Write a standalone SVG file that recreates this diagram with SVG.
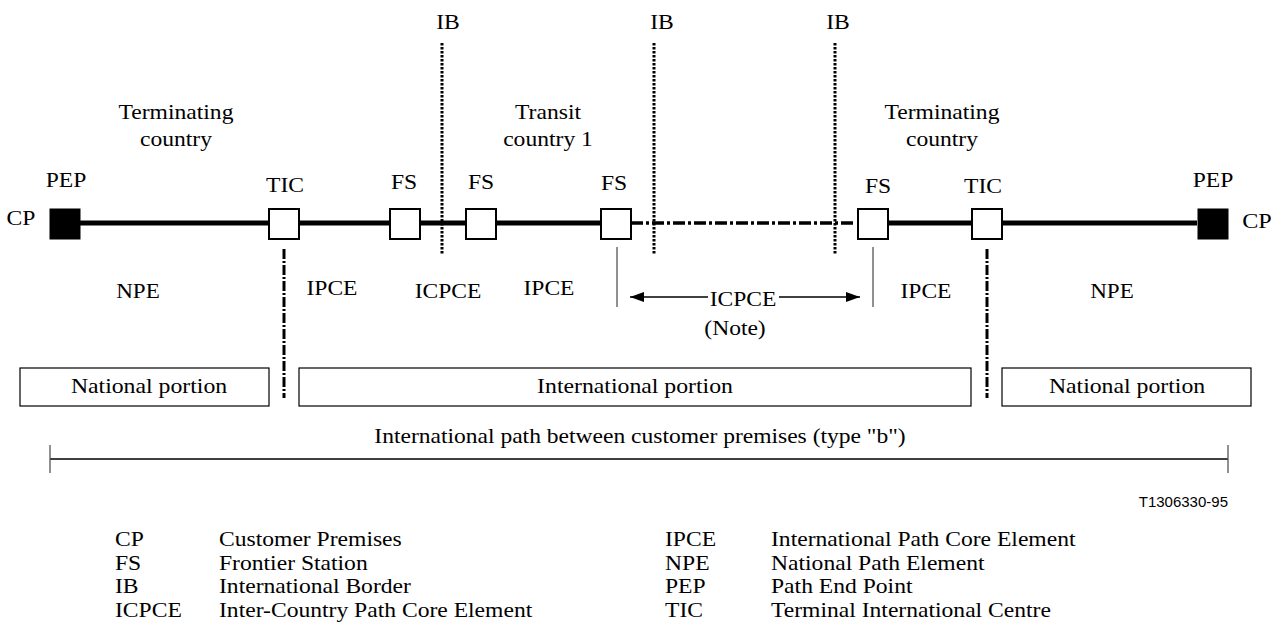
<svg xmlns="http://www.w3.org/2000/svg" width="1280" height="637" viewBox="0 0 1280 637">
<style>
text{font-family:"Liberation Serif","Times New Roman",serif;font-size:20px;fill:#000}
.m{text-anchor:middle}
.b{font-size:22px}
.s{font-family:"Liberation Sans",Arial,sans-serif;font-size:15px;text-anchor:end}
.box{fill:#fff;stroke:#000;stroke-width:2}
.pep{fill:#000;stroke:#000;stroke-width:1}
.portion{fill:#fff;stroke:#000;stroke-width:1.2}
.main{stroke:#000;stroke-width:5;fill:none}
.dashdot{stroke:#000;stroke-width:3.5;stroke-dasharray:12 3 3 3;fill:none}
.ib{stroke:#000;stroke-width:3;stroke-dasharray:2.5 1.5;fill:none}
.tic{stroke:#000;stroke-width:3;stroke-dasharray:10 2 2 2;fill:none}
.thin{stroke:#555;stroke-width:1.3;fill:none}
.arr{stroke:#000;stroke-width:1.3;fill:none}
</style>
<defs>
<marker id="ah" viewBox="0 0 14 10" refX="14" refY="5" markerWidth="14" markerHeight="10" markerUnits="userSpaceOnUse" orient="auto"><path d="M0,0 L14,5 L0,10 z" fill="#000"/></marker>
</defs>

<g id="connectors">
<line class="main" x1="80" y1="223" x2="601" y2="223"/>
<line class="dashdot" x1="631" y1="223" x2="856" y2="223"/>
<line class="main" x1="888" y1="223" x2="1197" y2="223"/>
<line class="ib" x1="442" y1="43" x2="442" y2="254"/>
<line class="ib" x1="654" y1="43" x2="654" y2="254"/>
<line class="ib" x1="835" y1="43" x2="835" y2="254"/>
<line class="tic" x1="284" y1="249" x2="284" y2="398"/>
<line class="tic" x1="987" y1="249" x2="987" y2="398"/>
<line class="thin" x1="617" y1="247" x2="617" y2="307"/>
<line class="thin" x1="873" y1="247" x2="873" y2="307"/>
<line class="arr" x1="708" y1="297" x2="630" y2="297" marker-end="url(#ah)"/>
<line class="arr" x1="779" y1="297" x2="860" y2="297" marker-end="url(#ah)"/>
<line class="arr" x1="50" y1="459" x2="1228" y2="459"/>
<line class="thin" x1="50" y1="445" x2="50" y2="473"/>
<line class="thin" x1="1228" y1="445" x2="1228" y2="473"/>
</g>

<g id="pep-left"><rect class="pep" x="50" y="209" width="30" height="30"/><text class="m" transform="translate(66 187) scale(1.18 1)">PEP</text><text class="m" transform="translate(21 225) scale(1.18 1)">CP</text></g>
<g id="tic-left"><rect class="box" x="269" y="209" width="30" height="30"/><text class="m" transform="translate(285 192) scale(1.18 1)">TIC</text></g>
<g id="fs1"><rect class="box" x="390" y="209" width="30" height="30"/><text class="m" transform="translate(404 189) scale(1.18 1)">FS</text></g>
<g id="fs2"><rect class="box" x="466" y="209" width="30" height="30"/><text class="m" transform="translate(481 189) scale(1.18 1)">FS</text></g>
<g id="fs3"><rect class="box" x="601" y="209" width="30" height="30"/><text class="m" transform="translate(614 190) scale(1.18 1)">FS</text></g>
<g id="fs4"><rect class="box" x="858" y="209" width="30" height="30"/><text class="m" transform="translate(878 193) scale(1.18 1)">FS</text></g>
<g id="tic-right"><rect class="box" x="972" y="209" width="30" height="30"/><text class="m" transform="translate(983 193) scale(1.18 1)">TIC</text></g>
<g id="pep-right"><rect class="pep" x="1198" y="209" width="30" height="30"/><text class="m" transform="translate(1213 187) scale(1.18 1)">PEP</text><text class="m b" transform="translate(1257 228) scale(1.1 1)">CP</text></g>

<g id="labels">
<text class="m" transform="translate(448 29) scale(1.18 1)">IB</text>
<text class="m" transform="translate(662 29) scale(1.18 1)">IB</text>
<text class="m" transform="translate(838 29) scale(1.18 1)">IB</text>
<text class="m" transform="translate(176 119) scale(1.18 1)">Terminating</text>
<text class="m" transform="translate(176 146) scale(1.18 1)">country</text>
<text class="m" transform="translate(548 119) scale(1.18 1)">Transit</text>
<text class="m" transform="translate(548 146) scale(1.18 1)">country 1</text>
<text class="m" transform="translate(942 119) scale(1.18 1)">Terminating</text>
<text class="m" transform="translate(942 146) scale(1.18 1)">country</text>
<text class="m b" transform="translate(138 298) scale(1.05 1)">NPE</text>
<text class="m b" transform="translate(332 295) scale(1.07 1)">IPCE</text>
<text class="m b" transform="translate(448 298) scale(1.07 1)">ICPCE</text>
<text class="m b" transform="translate(549 295) scale(1.07 1)">IPCE</text>
<text class="m b" transform="translate(743 306) scale(1.07 1)">ICPCE</text>
<text class="m b" transform="translate(735 335) scale(1.07 1)">(Note)</text>
<text class="m b" transform="translate(926 298) scale(1.07 1)">IPCE</text>
<text class="m b" transform="translate(1112 298) scale(1.05 1)">NPE</text>
<text class="m b" transform="translate(640 443) scale(1.07 1)">International path between customer premises (type "b")</text>
<text class="s" x="1228" y="507">T1306330-95</text>
</g>

<g id="national-left"><rect class="portion" x="20" y="368" width="249" height="38"/><text class="m b" transform="translate(149 393) scale(1.08 1)">National portion</text></g>
<g id="international"><rect class="portion" x="299" y="368" width="672" height="38"/><text class="m b" transform="translate(635 393) scale(1.08 1)">International portion</text></g>
<g id="national-right"><rect class="portion" x="1002" y="368" width="249" height="38"/><text class="m b" transform="translate(1127 393) scale(1.08 1)">National portion</text></g>

<g id="legend">
<text transform="translate(115 546) scale(1.18 1)">CP</text><text transform="translate(219 546) scale(1.18 1)">Customer Premises</text>
<text transform="translate(115 570) scale(1.18 1)">FS</text><text transform="translate(219 570) scale(1.18 1)">Frontier Station</text>
<text transform="translate(115 593) scale(1.18 1)">IB</text><text transform="translate(219 593) scale(1.18 1)">International Border</text>
<text transform="translate(115 617) scale(1.18 1)">ICPCE</text><text transform="translate(219 617) scale(1.18 1)">Inter-Country Path Core Element</text>
<text transform="translate(665 546) scale(1.18 1)">IPCE</text><text transform="translate(771 546) scale(1.18 1)">International Path Core Element</text>
<text transform="translate(665 570) scale(1.18 1)">NPE</text><text transform="translate(771 570) scale(1.18 1)">National Path Element</text>
<text transform="translate(665 593) scale(1.18 1)">PEP</text><text transform="translate(771 593) scale(1.18 1)">Path End Point</text>
<text transform="translate(665 617) scale(1.18 1)">TIC</text><text transform="translate(771 617) scale(1.18 1)">Terminal International Centre</text>
</g>
</svg>
